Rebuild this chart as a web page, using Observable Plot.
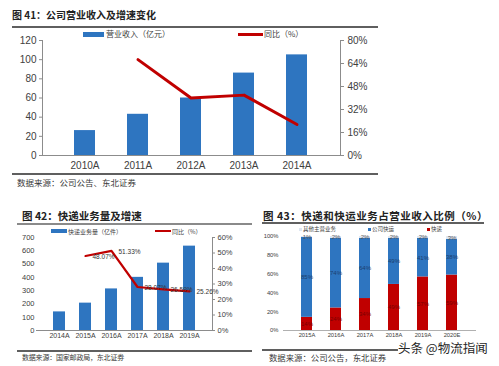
<!DOCTYPE html>
<html><head><meta charset="utf-8">
<script src="https://cdn.jsdelivr.net/npm/d3@7"></script>
<script src="https://cdn.jsdelivr.net/npm/@observablehq/plot@0.6"></script>
<style>
html,body{margin:0;padding:0;background:#fff}
body{width:499px;height:366px;position:relative;overflow:hidden;font-family:"Noto Sans CJK SC","Liberation Sans",sans-serif}
.a{position:absolute;white-space:nowrap}
.t{font-weight:700;color:#222}
.src{color:#3a3a3a}
.rule{position:absolute;background:#5f5f5f;height:2px}
.lg{position:absolute;white-space:nowrap;color:#404040}
</style></head>
<body>
<!-- Chart 41 -->
<div class="a t" style="left:12px;top:9px;font-size:10px;line-height:12px">图 41：公司营业收入及增速变化</div>
<div class="rule" style="left:12px;top:26px;width:366px"></div>
<div id="c1" class="a" style="left:0;top:30px"></div>
<div class="lg" style="left:83px;top:31.5px;width:21px;height:5px;background:#2e75c0"></div>
<div class="lg" style="left:106px;top:29px;font-size:8px;line-height:10px">营业收入（亿元）</div>
<div class="lg" style="left:238px;top:32.5px;width:25px;height:3px;background:#c00000"></div>
<div class="lg" style="left:264px;top:29px;font-size:8px;line-height:10px">同比（%）</div>
<div class="rule" style="left:12px;top:173px;width:366px"></div>
<div class="a src" style="left:17px;top:177px;font-size:8.5px;line-height:10px">数据来源：公司公告、东北证券</div>

<!-- Chart 42 -->
<div class="a t" style="left:22px;top:210px;font-size:10.5px;line-height:12px">图 42：快递业务量及增速</div>
<div class="rule" style="left:17px;top:223px;width:235px;background:#8a8a8a;height:1.5px"></div>
<div id="c2" class="a" style="left:0;top:228px"></div>
<div class="lg" style="left:51px;top:229px;width:16px;height:4px;background:#2e75c0"></div>
<div class="lg" style="left:68px;top:227.5px;font-size:6px;line-height:7px">快递业务量（亿件）</div>
<div class="lg" style="left:155px;top:230px;width:16px;height:2px;background:#c00000"></div>
<div class="lg" style="left:172px;top:227.5px;font-size:6px;line-height:7px">同比（%）</div>
<div class="rule" style="left:17px;top:350px;width:235px"></div>
<div class="a src" style="left:22px;top:353px;font-size:7px;line-height:8px;letter-spacing:-0.2px">数据来源：国家邮政局，东北证券</div>

<!-- Chart 43 -->
<div class="a t" style="left:263px;top:210px;font-size:10.5px;line-height:12px;letter-spacing:0.5px">图 43：快递和快运业务占营业收入比例（%）</div>
<div class="rule" style="left:262px;top:222px;width:222px"></div>
<div id="c3" class="a" style="left:250px;top:226px"></div>
<div class="lg" style="left:299px;top:227.5px;width:3px;height:3px;background:#dfe7f2"></div>
<div class="lg" style="left:303px;top:226px;font-size:5.5px;line-height:6px">其他主营业务</div>
<div class="lg" style="left:368px;top:227.5px;width:3px;height:3px;background:#2e75c0"></div>
<div class="lg" style="left:372px;top:226px;font-size:5.5px;line-height:6px">公司快运</div>
<div class="lg" style="left:427px;top:227.5px;width:3px;height:3px;background:#c00000"></div>
<div class="lg" style="left:431px;top:226px;font-size:5.5px;line-height:6px">快递</div>
<div class="rule" style="left:262px;top:349px;width:136px"></div>
<div class="a src" style="left:269px;top:352px;font-size:8.4px;line-height:10px">数据来源：公司公告，东北证券</div>
<div class="a" style="left:398px;top:340.5px;font-size:12.5px;line-height:13px;color:#262626;text-shadow:0 0 2px #fff,0 0 2px #fff">头条 @物流指闻</div>

<script>
// ---------- data ----------
const years1 = ["2010A", "2011A", "2012A", "2013A", "2014A"];
const revenue1 = [26, 43, 60, 86, 105];
const yoy1 = [null, 66.7, 40.0, 42.0, 21.6];
const leftTicks1 = [0, 20, 40, 60, 80, 100, 120];
const rightTicks1 = [0, 16, 32, 48, 64, 80];

const years2 = ["2014A", "2015A", "2016A", "2017A", "2018A", "2019A"];
const volume2 = [140, 206, 313, 400, 507, 635];
const yoy2 = [null, 48.07, 51.33, 28.07, 26.59, 25.26];
const leftTicks2 = [0, 100, 200, 300, 400, 500, 600, 700];
const rightTicks2 = [0, 10, 20, 30, 40, 50, 60];

const years3 = ["2015A", "2016A", "2017A", "2018A", "2019A", "2020E"];
const seriesNames3 = ["快递", "公司快运", "其他主营业务"];
const express3 = [14, 24, 34, 49, 57, 59];
const freight3 = [85, 74, 64, 49, 41, 38];
const other3 = [1, 2, 2, 2, 2, 3];
const ticks3 = [0, 20, 40, 60, 80, 100];

const BLUE = "#2e75c0", RED = "#c00000", AX = "#8c8c8c", TXT = "#404040";
const numFont = '"Liberation Sans", Arial, sans-serif';

// ---------- chart 41 ----------
const k1 = 120 / 80;
const d1 = years1.map((y, i) => ({year: y, rev: revenue1[i], yoy: yoy1[i]}));
const p1 = Plot.plot({
  width: 380, height: 142, marginLeft: 42, marginRight: 40, marginTop: 10, marginBottom: 17,
  style: {fontFamily: numFont, background: "transparent", overflow: "visible"},
  x: {domain: years1, padding: 0.6, axis: null},
  y: {domain: [0, 120], axis: null},
  marks: [
    Plot.barY(d1, {x: "year", y: "rev", fill: BLUE}),
    Plot.ruleY([0], {stroke: AX}),
    Plot.frame({anchor: "left", stroke: AX}),
    Plot.frame({anchor: "right", stroke: AX}),
    Plot.axisY({anchor: "left", label: null, ticks: leftTicks1, tickSize: 3, tickPadding: 3, fontSize: 10, stroke: AX, fill: TXT}),
    Plot.axisY({anchor: "right", label: null, ticks: rightTicks1.map(v => v * k1), tickFormat: v => Math.round(v / k1) + "%", tickSize: 3, tickPadding: 4, fontSize: 10, stroke: AX, fill: TXT}),
    Plot.axisX({anchor: "bottom", label: null, tickSize: 0, tickPadding: 6, fontSize: 10, fill: TXT}),
    Plot.line(d1.filter(d => d.yoy != null), {x: "year", y: d => d.yoy * k1, stroke: RED, strokeWidth: 3})
  ]
});
document.getElementById("c1").append(p1);

// ---------- chart 42 ----------
const k2 = 700 / 60;
const d2 = years2.map((y, i) => ({year: y, vol: volume2[i], yoy: yoy2[i]}));
const l2 = d2.filter(d => d.yoy != null);
const p2 = Plot.plot({
  width: 250, height: 115, marginLeft: 36, marginRight: 38, marginTop: 9, marginBottom: 13,
  style: {fontFamily: numFont, background: "transparent", overflow: "visible"},
  x: {domain: years2, padding: 0.55, axis: null},
  y: {domain: [0, 700], axis: null},
  marks: [
    Plot.barY(d2, {x: "year", y: "vol", fill: BLUE}),
    Plot.ruleY([0], {stroke: AX}),
    Plot.frame({anchor: "right", stroke: AX}),
    Plot.axisY({anchor: "left", label: null, ticks: leftTicks2, tickSize: 0, tickPadding: 2, fontSize: 7.5, fill: TXT}),
    Plot.axisY({anchor: "right", label: null, ticks: rightTicks2.map(v => v * k2), tickFormat: v => Math.round(v / k2) + "%", tickSize: 2, tickPadding: 3, fontSize: 7.5, stroke: AX, fill: TXT}),
    Plot.axisX({anchor: "bottom", label: null, tickSize: 0, tickPadding: 3, fontSize: 7, fill: TXT}),
    Plot.line(l2, {x: "year", y: d => d.yoy * k2, stroke: RED, strokeWidth: 2.2}),
    Plot.text(l2, {x: "year", y: d => d.yoy * k2, text: d => d.yoy.toFixed(2) + "%", dx: 7, dy: 1, textAnchor: "start", fontSize: 6.5, fill: "#333"})
  ]
});
document.getElementById("c2").append(p2);

// ---------- chart 43 ----------
const vals3 = {"快递": express3, "公司快运": freight3, "其他主营业务": other3};
const d3long = [];
years3.forEach((y, i) => seriesNames3.forEach(s => d3long.push({year: y, s, v: vals3[s][i]})));
const p3 = Plot.plot({
  width: 249, height: 117, marginLeft: 33, marginRight: 23, marginTop: 10, marginBottom: 13,
  style: {fontFamily: numFont, background: "transparent", overflow: "visible"},
  x: {domain: years3, padding: 0.62, axis: null},
  y: {domain: [0, 100], axis: null},
  color: {domain: seriesNames3, range: [RED, BLUE, "#dfe7f2"]},
  marks: [
    Plot.barY(d3long, {x: "year", y: "v", fill: "s", order: seriesNames3}),
    Plot.ruleY([0], {stroke: "#b0b0b0"}),
    Plot.axisY({anchor: "left", label: null, ticks: ticks3, tickFormat: v => v + "%", tickSize: 0, tickPadding: 5, fontSize: 5.8, fill: TXT}),
    Plot.axisX({anchor: "bottom", label: null, tickSize: 0, tickPadding: 2.5, fontSize: 5.8, fill: TXT}),
    Plot.text(d3long, Plot.stackY({x: "year", y: "v", z: "s", order: seriesNames3, text: d => d.v + "%",
      fill: d => d.s === "快递" ? "#7a0000" : d.s === "公司快运" ? "#1d3f6e" : "#555", fontSize: 6}))
  ]
});
document.getElementById("c3").append(p3);
</script>
</body></html>
